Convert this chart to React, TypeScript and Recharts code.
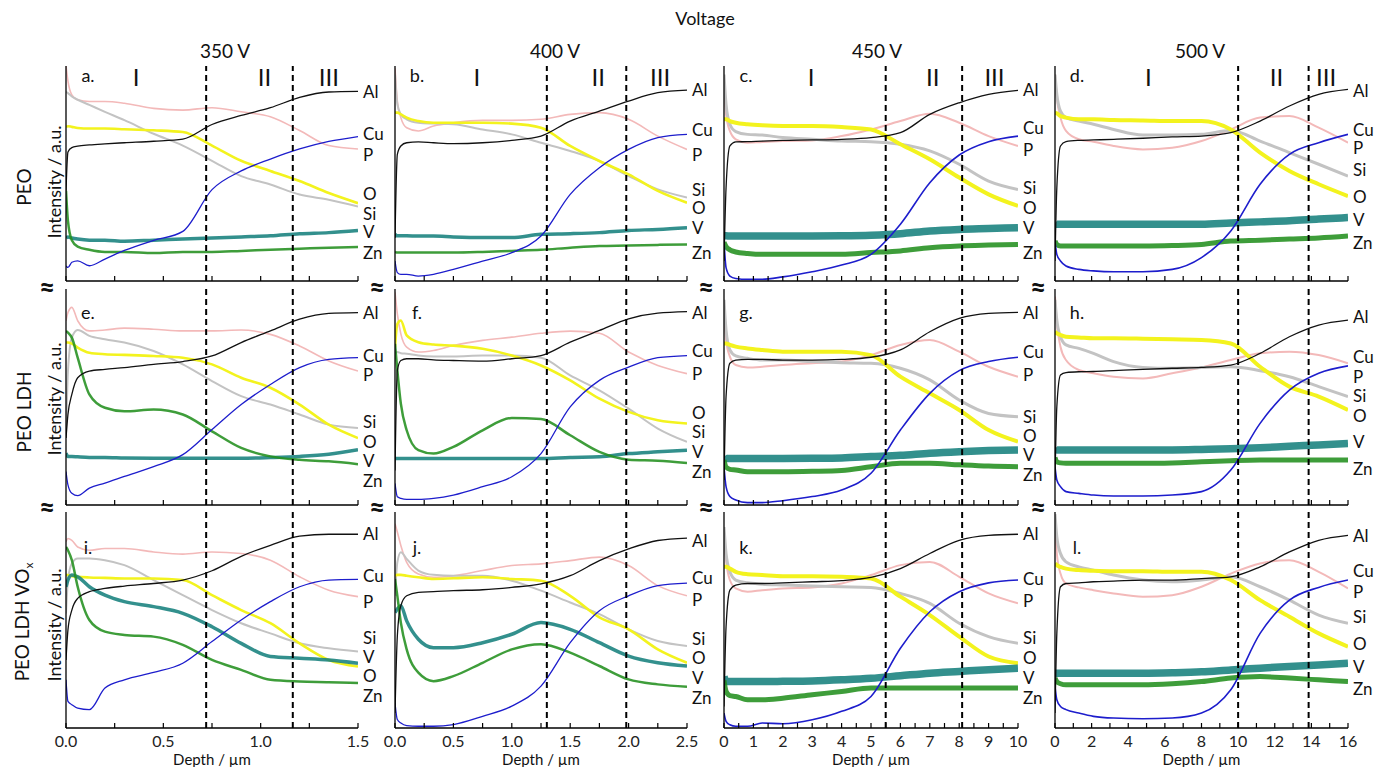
import React from "react";
import { LineChart, Line, XAxis, YAxis, ReferenceLine, ReferenceDot } from "recharts";

// series order in every panel list: Al, Cu, P, Si, O, V, Zn
const ELEMENTS = ["Al", "Cu", "P", "Si", "O", "V", "Zn"];
const DRAW_ORDER = ["P", "Si", "O", "V", "Zn", "Cu", "Al"];
const COLORS: Record<string, string> = {
    Al: "#111111",
    Cu: "#1d1dcc",
    P: "#f3b9b9",
    Si: "#c3c3c3",
    O: "#f3f31e",
    V: "#17817d",
    Zn: "#23901f",
};

// depth sampling per voltage column (µm)
const depth350 = [0, 0.01, 0.03, 0.06, 0.12, 0.2, 0.3, 0.45, 0.6, 0.75, 0.9, 1.05, 1.2, 1.35, 1.5];
const depth400 = [0, 0.02, 0.05, 0.1, 0.2, 0.33, 0.5, 0.75, 1, 1.25, 1.5, 1.75, 2, 2.25, 2.5];
const depth450 = [0, 0.07, 0.2, 0.4, 0.8, 1.3, 2, 3, 4, 5, 6, 7, 8, 9, 10];
const depth500 = [0, 0.1, 0.3, 0.6, 1.3, 2.1, 3.2, 4.8, 6.4, 8, 9.6, 11.2, 12.8, 14.4, 16];

const ticks350 = [0, 0.25, 0.5, 0.75, 1, 1.25, 1.5];
const ticks400 = [0, 0.25, 0.5, 0.75, 1, 1.25, 1.5, 1.75, 2, 2.25, 2.5];
const ticks450 = [0, 0.5, 1, 1.5, 2, 2.5, 3, 3.5, 4, 4.5, 5, 5.5, 6, 6.5, 7, 7.5, 8, 8.5, 9, 9.5, 10];
const ticks500 = [0, 1, 2, 3, 4, 5, 6, 7, 8, 9, 10, 11, 12, 13, 14, 15, 16];

const tickLabels350 = [0, 0.5, 1, 1.5];
const tickLabels400 = [0, 0.5, 1, 1.5, 2, 2.5];
const tickLabels450 = [0, 1, 2, 3, 4, 5, 6, 7, 8, 9, 10];
const tickLabels500 = [0, 2, 4, 6, 8, 10, 12, 14, 16];

const voltages = ["350 V", "400 V", "450 V", "500 V"];
const coatings = ["PEO", "PEO LDH", "PEO LDH VO"];

// region borders (dashed) and region names per column
const borders350 = [0.72, 1.165];
const borders400 = [1.3, 1.98];
const borders450 = [5.5, 8.1];
const borders500 = [10, 13.85];
const regionNames = ["I", "II", "III"];
const regions350 = [0.36, 1.02, 1.35];
const regions400 = [0.7, 1.74, 2.27];
const regions450 = [2.96, 7.1, 9.2];
const regions500 = [5.1, 12.1, 14.8];

// ---- PEO ----
const panelA = [
    [42, 60, 62, 62.7, 63.3, 63.8, 64.3, 65, 66, 72.8, 77, 80.6, 85.4, 87.9, 88.2],
    [7, 6.3, 8.7, 9.4, 7.1, 10.2, 14.2, 18.9, 23.1, 42.5, 51.2, 56.7, 61.4, 64.9, 67.2],
    [100, 93, 86.6, 84.3, 83.5, 83.5, 82.7, 80.3, 79.5, 80.6, 78.7, 76.4, 70, 63, 61.4],
    [88, 87.4, 85.8, 84.3, 81.9, 78.7, 74.8, 68.5, 63, 55.9, 48.8, 44.9, 40.2, 37.8, 34.6],
    [71.7, 72, 71.7, 71.2, 70.9, 70.9, 70.6, 70.1, 69.3, 63, 55.9, 51.2, 46.5, 40.9, 36.2],
    [20, 20.5, 20, 19.5, 19, 19, 18.5, 19, 19.5, 20, 20.5, 21, 22, 22.5, 23.5],
    [42, 28, 19, 16, 14.5, 13.5, 13.5, 13, 13.5, 13.5, 14, 14.5, 15, 15.5, 15.8],
];
const labelsA = [88.2, 68.8, 59, 31.5, 40.9, 22.8, 13.4];

const panelB = [
    [20, 58.9, 62.8, 64.3, 64.7, 64.3, 63.9, 64.3, 65.4, 67.4, 74.4, 79, 83.7, 87.6, 88.8],
    [9.3, 3.9, 3.1, 3.1, 2.3, 3.1, 5.4, 9.3, 13.2, 20.9, 40.3, 52.7, 61.2, 66.7, 68.2],
    [99, 83.7, 76, 71.3, 69.8, 72.1, 73.6, 74.7, 74.7, 75.2, 77.5, 78.3, 75.2, 67.4, 61.2],
    [96, 82.2, 77.5, 75.2, 73.6, 73.2, 72.9, 70.5, 68.2, 64.3, 60.5, 55.8, 48.8, 42.6, 38.8],
    [78.3, 78.3, 77.5, 76, 74.4, 73.6, 73.6, 73.6, 73.2, 71.3, 62.8, 55.8, 49.6, 41.9, 36.4],
    [21.7, 21, 21, 21, 20.9, 20.9, 20.5, 20.2, 20.2, 21.7, 22, 22.5, 23.5, 24, 24.8],
    [13.5, 13.2, 13.2, 13.2, 13.2, 13.2, 13.2, 13.5, 14, 14.5, 15.5, 16.3, 16.5, 16.8, 17],
];
const labelsB = [89, 70.5, 58.9, 42.6, 34.1, 24.8, 13.2];

const panelC = [
    [9.3, 43.4, 62.8, 64.7, 64.8, 65.1, 65.4, 65.6, 65.9, 66.7, 69, 77.5, 82.9, 86.8, 88.7],
    [18.6, 6.2, 2.3, 1.2, 0.8, 0.8, 1.9, 4.3, 7.4, 12.4, 26.4, 45.7, 58.6, 64.8, 67.4],
    [90, 77.5, 69.8, 65.9, 64.3, 64.7, 65.1, 65.4, 67.4, 70.5, 74.4, 77.8, 73.6, 67.4, 62.8],
    [96, 82.2, 72.9, 69.5, 68.2, 67.9, 66.7, 65.9, 65.1, 64.8, 63.6, 60.5, 54.3, 46.5, 42.6],
    [75.2, 75.2, 74.4, 73.6, 72.9, 72.4, 72.1, 72.1, 71.6, 70.5, 63.6, 56.6, 48.1, 40.3, 34.9],
    [21, 21, 20.9, 20.9, 20.9, 20.9, 20.9, 20.9, 21, 21.3, 22, 23.3, 24, 24.4, 24.8],
    [18, 16, 14.5, 13.5, 12.8, 12.4, 12.4, 12.4, 12.4, 13.2, 14, 15.5, 16.3, 16.7, 17],
];
const labelsC = [89.1, 71.3, 61.2, 43.4, 34.1, 24.8, 13.2];

const panelD = [
    [9.3, 43.4, 62.8, 64.8, 65.4, 65.6, 65.9, 66.4, 67, 67.4, 69, 74.4, 81.4, 86.8, 89.1],
    [18.6, 12.4, 9.3, 7, 5.4, 4.7, 4.3, 4.3, 5.4, 10.9, 23.3, 45, 58.9, 64.3, 68.2],
    [96, 85.3, 76, 69.8, 65.9, 64.8, 62.8, 61.2, 62, 65.1, 70.5, 76, 76.7, 71.3, 64.3],
    [96, 86.8, 79, 76, 74.4, 72.9, 70.5, 67.9, 67.9, 68.2, 70, 65.1, 59.7, 54.3, 48.8],
    [78.3, 78, 76.7, 76, 75.2, 75.2, 74.9, 74.7, 74.4, 74.4, 70.5, 59.7, 51.2, 45, 39.5],
    [26.8, 26.4, 26.4, 26.4, 26.4, 26.4, 26.4, 26.4, 26.4, 26.4, 27, 27.5, 28, 28.8, 29.5],
    [18.6, 17, 16.3, 16.3, 16.3, 16.3, 16.3, 16.3, 16.5, 17, 18.6, 19, 19.5, 20, 20.9],
];
const labelsD = [88.4, 70.5, 62, 52, 39.5, 28.7, 17.8];

// ---- PEO LDH ----
const panelE = [
    [31, 41.9, 51.2, 58.9, 62, 62.8, 63.6, 65.1, 66.4, 69, 75.2, 80.6, 86, 88.7, 89.1],
    [15.5, 9.3, 5.4, 4.3, 7.8, 10.1, 13.2, 17.8, 23.3, 34.9, 46.5, 55.8, 63.6, 67.4, 68.2],
    [85.3, 89.1, 91.5, 85.3, 80.6, 81, 81.9, 81.4, 80.6, 80.6, 81, 79, 73.6, 66.7, 62],
    [31, 62, 77.5, 81, 78.3, 76.7, 75.2, 71.3, 65.1, 57.4, 50.4, 46.5, 41.9, 37.2, 35.7],
    [75.2, 75.2, 74.7, 72.9, 70.5, 69.8, 69.5, 69, 68.2, 65.1, 58.9, 54.3, 46.5, 37.2, 31],
    [24, 22.5, 22.5, 22.3, 22, 22, 21.8, 21.7, 21.7, 21.7, 21.7, 22, 22.5, 23.5, 25.6],
    [80.6, 79.8, 77.5, 68.2, 51.2, 45, 43.4, 44.2, 41.9, 34.1, 26.4, 22.5, 20.9, 20.2, 18.9],
];
const labelsE = [89.1, 69, 60.5, 38.5, 29.5, 20.5, 11.5];

const panelF = [
    [16, 62.3, 66.9, 67.7, 67.7, 67.2, 66.9, 66.6, 67.7, 69.2, 75.4, 80.8, 86.2, 88.8, 89.5],
    [10, 3.8, 3.1, 2.6, 2.6, 3.1, 4.6, 8.5, 13.1, 23.8, 45.4, 57.7, 63.8, 68.2, 69.2],
    [98.5, 88.5, 79.2, 73.1, 70.8, 71.5, 73.8, 76.2, 77.7, 79.5, 80.5, 79.5, 70.8, 64.6, 60.8],
    [70, 70.8, 70.3, 70, 69.2, 68.8, 68.8, 69.2, 69.2, 68.2, 60, 53.1, 44.6, 35.4, 29.2],
    [73, 83.8, 85.4, 78.5, 75.4, 74.3, 73.8, 72.3, 69.2, 64.6, 57.7, 49.2, 43.1, 39.2, 37.7],
    [21.5, 21.5, 21.5, 21.5, 21.5, 21.5, 21.5, 21.5, 21.5, 21.5, 22, 22.3, 23.8, 24.6, 25.4],
    [74.6, 62.3, 46.9, 34.6, 25.4, 23.8, 26.9, 34.6, 40.3, 39.8, 32.3, 24.6, 21, 20.5, 19.5],
];
const labelsF = [89.2, 71.5, 60.8, 34, 43, 25, 15.5];

const panelG = [
    [11.6, 50.2, 65.6, 67.1, 67.4, 67.4, 67.1, 67.1, 67.4, 68.4, 71.8, 80.2, 86.4, 88.7, 89.2],
    [17.7, 8.5, 3.9, 2.3, 1.1, 1.1, 2, 3.9, 6.9, 14.7, 34.7, 51.7, 62.2, 66.4, 68.4],
    [88.7, 76.4, 68.7, 64.8, 63.7, 64, 64.8, 65.6, 66.4, 69.4, 74.1, 76.4, 71, 64, 59.4],
    [95, 81, 71.8, 69, 67.9, 67.1, 67.1, 66.4, 65.9, 65.6, 63.3, 57.9, 48.6, 42.4, 40.9],
    [74.8, 74.8, 74.1, 73.3, 72.5, 71.8, 71, 71, 71, 69.4, 59.4, 51.7, 44, 34.7, 29.3],
    [22.4, 21.5, 21.5, 21.5, 21.5, 21.5, 21.5, 21.6, 21.8, 22.4, 23, 24, 24.7, 25.2, 25.5],
    [20.8, 17.5, 16.5, 16.2, 15.4, 15.4, 15.4, 15.6, 16, 17.7, 19.3, 19.3, 18.6, 18, 17.7],
];
const labelsG = [89.2, 71, 60.2, 41.2, 32.4, 23.5, 14.3];

const panelH = [
    [11.6, 45.5, 60.2, 61.3, 61.7, 61.8, 62.2, 62.8, 63.3, 63.7, 64.8, 70.2, 77.9, 83.3, 85.6],
    [17.7, 11.6, 8.5, 6.2, 5.4, 4.6, 4.2, 4.2, 4.6, 6.2, 16.2, 37.8, 53.2, 61, 64.4],
    [96.5, 84.1, 73.3, 67.1, 62.5, 61, 59.4, 58.6, 61, 63.7, 67.1, 70.2, 71, 69.4, 65.6],
    [95, 85.6, 77.9, 74.1, 72.5, 70.2, 66.4, 63.7, 63.3, 63.7, 64, 62.2, 59.4, 54.8, 50.2],
    [80.2, 79.5, 78.7, 77.9, 77.6, 77.2, 77.2, 77, 76.7, 76.4, 74.8, 64, 54.8, 50.2, 44],
    [26, 25.5, 25.5, 25.5, 25.5, 25.5, 25.5, 25.5, 25.5, 25.7, 26, 26.5, 27.2, 27.8, 28.5],
    [22, 20, 19.5, 19.3, 19.3, 19.3, 19.3, 19.3, 19.5, 20, 20.5, 20.8, 20.8, 20.8, 20.8],
];
const labelsH = [87.2, 68.8, 59.6, 50.5, 41.5, 29.3, 17];

// ---- PEO LDH VOx ----
const panelI = [
    [31.5, 45.4, 54.6, 60, 63.1, 64.6, 65.7, 66.9, 68.5, 72.8, 79.5, 84.6, 88.8, 89.7, 89.7],
    [22.3, 12.3, 10.8, 9.2, 8.5, 18.5, 22.3, 25.7, 30, 40, 50, 58.5, 65.4, 68.5, 68.8],
    [86.2, 87.7, 86.9, 83.8, 82.3, 83.1, 83.1, 81.5, 80.5, 81.5, 80.8, 77.7, 70, 63.8, 60.8],
    [53, 68.5, 76.2, 78.5, 78.5, 77.7, 75.4, 68.5, 61.5, 54.6, 48.5, 43.8, 39.2, 36.9, 35.4],
    [70.8, 70.8, 70.3, 70, 69.7, 69.5, 69.2, 69.2, 68.5, 61.5, 54.6, 48.5, 39.2, 31.5, 28.5],
    [65.4, 68.5, 70.8, 70, 65.4, 61.5, 58.5, 56.2, 53.1, 46.9, 39.2, 33.1, 32.3, 31.5, 30],
    [83.8, 82.3, 77.7, 65.4, 50, 44.6, 43.1, 42.3, 38.5, 31.5, 26.9, 22.3, 21.5, 21.2, 20.8],
];
const labelsI = [90, 70.8, 58.5, 41.8, 24.2, 33, 15];

const panelJ = [
    [7, 42.6, 56.6, 61.2, 62.8, 63.1, 63.6, 64, 65.1, 66.7, 70.5, 77.5, 82.9, 86.8, 87.9],
    [11.6, 3.9, 2.3, 1.1, 0.8, 0.8, 1.6, 5.4, 10.1, 19.4, 39.5, 54.3, 61.2, 65.9, 67.1],
    [94.6, 90.7, 84.5, 76.7, 71.3, 69.8, 70.5, 72.9, 75.2, 76, 77.5, 79.1, 75.2, 65.9, 61.2],
    [61.2, 76.7, 81.4, 78.3, 72.9, 70.9, 70.5, 70.5, 68.2, 63.6, 58.1, 52.7, 45.7, 40.3, 38],
    [70.5, 70.9, 70.9, 70.5, 69.8, 69, 69.3, 69.8, 69, 68.2, 61.2, 51.2, 45.7, 36.4, 30.2],
    [53.5, 55, 56.6, 49.6, 41.1, 37.2, 37.2, 39.5, 43.4, 48.8, 45.7, 39.5, 33.3, 30.2, 28.7],
    [69, 61.2, 48.8, 36.4, 25.6, 21.7, 24, 30.2, 36.4, 38.8, 34.9, 28.7, 22.5, 20.2, 19.1],
];
const labelsJ = [86.8, 69.8, 59.7, 41.3, 32.5, 23.3, 14.2];

const panelK = [
    [10, 46.9, 63.8, 66.2, 66.9, 66.9, 67.2, 67.7, 68.2, 69.7, 73.8, 80.8, 86.9, 89.2, 89.7],
    [6.9, 3.1, 1.5, 0.8, 0.8, 2.3, 2, 3.8, 7.7, 14.6, 36.9, 53.8, 63.1, 67.2, 68.5],
    [90, 77.7, 68.5, 64.6, 63.1, 63.8, 64.6, 65.1, 66.9, 70.8, 75.4, 76.9, 70, 62.3, 57.7],
    [93, 80.8, 72.3, 68.5, 67.2, 66.6, 66.2, 65.7, 65.4, 65.1, 62.3, 57.7, 48.5, 42.3, 39.2],
    [74.6, 74.6, 73.8, 72.3, 71.2, 70.8, 70.3, 70.3, 70, 69.2, 60.8, 52.3, 42.3, 33.1, 30],
    [23.8, 21.5, 21.5, 21.5, 21.5, 21.5, 21.6, 21.8, 22.3, 23, 24.2, 25.4, 26.2, 27, 27.7],
    [22, 17, 15, 14.6, 13.1, 13.1, 13.8, 15.4, 16.9, 18.5, 18.5, 18.5, 18.5, 18.5, 18.5],
];
const labelsK = [90, 69.2, 59.2, 41.8, 32.5, 23.2, 13.9];

const panelL = [
    [6.9, 43.8, 65.4, 66.9, 67.2, 67.7, 68, 68.5, 68.5, 69.2, 70, 74.6, 81.5, 86.9, 89.2],
    [19.2, 13.1, 10, 8.5, 6.9, 5.4, 4.6, 4.3, 4.6, 6.9, 17.7, 43.8, 59.2, 65.1, 68.5],
    [93, 80.8, 71.5, 66.9, 65.1, 63.8, 62.3, 60.8, 61.5, 65.4, 71.5, 76.2, 77.7, 72.3, 64.6],
    [99, 88.5, 80.8, 76.9, 74.6, 73.1, 70.8, 68.5, 67.7, 68.5, 70, 65.4, 59.2, 52.3, 48.5],
    [76.2, 75.4, 74.6, 73.8, 73.1, 72.8, 72.6, 72.6, 72.3, 72.3, 68.5, 59.2, 51.5, 43.8, 37.7],
    [25.4, 25.4, 25.4, 25.4, 25.4, 25.4, 25.4, 25.4, 25.6, 26, 26.9, 27.7, 28.5, 29.2, 30],
    [23.1, 21.5, 20.5, 20, 20, 20, 20, 20, 20.5, 21.5, 23.1, 23.8, 23.1, 22.3, 21.5],
];
const labelsL = [89.2, 73.1, 63.1, 51.5, 39.2, 28.5, 18.5];

// ---- layout ----
const COL_X = [66, 395, 724, 1055];
const COL_W = [292, 292, 294, 293];
const ROW_Y = [66, 289, 512];
const ROW_H = [215, 216, 216];
const LETTER_DY = [9, 23, 35];
const PAD_L = 16;

const COLUMNS = [
    { depth: depth350, max: 1.5, ticks: ticks350, tickLabels: tickLabels350, decimals: 1, borders: borders350, regions: regions350 },
    { depth: depth400, max: 2.5, ticks: ticks400, tickLabels: tickLabels400, decimals: 1, borders: borders400, regions: regions400 },
    { depth: depth450, max: 10, ticks: ticks450, tickLabels: tickLabels450, decimals: 0, borders: borders450, regions: regions450 },
    { depth: depth500, max: 16, ticks: ticks500, tickLabels: tickLabels500, decimals: 0, borders: borders500, regions: regions500 },
];

const PANELS = [
    { letter: "a.", row: 0, col: 0, series: panelA, labels: labelsA },
    { letter: "b.", row: 0, col: 1, series: panelB, labels: labelsB },
    { letter: "c.", row: 0, col: 2, series: panelC, labels: labelsC },
    { letter: "d.", row: 0, col: 3, series: panelD, labels: labelsD },
    { letter: "e.", row: 1, col: 0, series: panelE, labels: labelsE },
    { letter: "f.", row: 1, col: 1, series: panelF, labels: labelsF },
    { letter: "g.", row: 1, col: 2, series: panelG, labels: labelsG },
    { letter: "h.", row: 1, col: 3, series: panelH, labels: labelsH },
    { letter: "i.", row: 2, col: 0, series: panelI, labels: labelsI },
    { letter: "j.", row: 2, col: 1, series: panelJ, labels: labelsJ },
    { letter: "k.", row: 2, col: 2, series: panelK, labels: labelsK },
    { letter: "l.", row: 2, col: 3, series: panelL, labels: labelsL },
];

const WIDTH_THIN: Record<string, number> = { Al: 1.3, Cu: 1.3, P: 1.6, Si: 2, O: 2.6, V: 3.5, Zn: 2.5 };
const WIDTH_THICK: Record<string, number> = { Al: 1.3, Cu: 1.6, P: 2, Si: 3, O: 4, V: 7.5, Zn: 5 };

const makeTick = (labels: number[], decimals: number, show: boolean) => (props: any) => {
    const { x, y, payload } = props;
    const v = payload.value;
    return (
        <g>
            <line x1={x} x2={x} y1={y} y2={y - 5} stroke="#000" strokeWidth={1.2} />
            {show && labels.includes(v) && (
                <text x={x} y={y + 19} textAnchor="middle" fontSize={16} fill="#222">
                    {v.toFixed(decimals)}
                </text>
            )}
        </g>
    );
};

function Panel({ panel }: { panel: (typeof PANELS)[number] }) {
    const { row, col, series, labels, letter } = panel;
    const c = COLUMNS[col];
    const data = c.depth.map((d, i) => {
        const o: Record<string, number> = { depth: d };
        ELEMENTS.forEach((e, k) => (o[e] = series[k][i]));
        return o;
    });
    const widths = col >= 2 ? WIDTH_THICK : WIDTH_THIN;
    const bottom = row === 2 ? 44 : 2;
    const w = COL_W[col] + PAD_L + 46;
    const h = ROW_H[row] + 6 + bottom + 1;

    return (
        <>
            <div style={{ position: "absolute", left: COL_X[col] - PAD_L, top: ROW_Y[row] - 6 }}>
                <LineChart width={w} height={h} data={data} margin={{ top: 6, right: 46, bottom, left: PAD_L - 1 }}>
                    <XAxis
                        dataKey="depth"
                        type="number"
                        domain={[0, c.max]}
                        ticks={c.ticks}
                        interval={0}
                        height={1}
                        tickSize={0}
                        tickMargin={0}
                        tickLine={false}
                        axisLine={{ stroke: "#000", strokeWidth: 1.3 }}
                        tick={makeTick(c.tickLabels, c.decimals, row === 2)}
                        allowDataOverflow
                    />
                    <YAxis
                        type="number"
                        domain={[0, 100]}
                        width={1}
                        tick={false}
                        tickLine={false}
                        axisLine={{ stroke: "#000", strokeWidth: 1.3 }}
                        allowDataOverflow
                    />
                    {DRAW_ORDER.map((e) => (
                        <Line
                            key={e}
                            dataKey={e}
                            type="monotone"
                            stroke={COLORS[e]}
                            strokeWidth={widths[e]}
                            strokeOpacity={e === "V" || e === "Zn" ? 0.88 : 1}
                            dot={false}
                            activeDot={false}
                            isAnimationActive={false}
                        />
                    ))}
                    {c.borders.map((b) => (
                        <ReferenceLine key={b} x={b} stroke="#000" strokeWidth={2} strokeDasharray="6 4" />
                    ))}
                    {row === 0 &&
                        c.regions.map((r, i) => (
                            <ReferenceDot
                                key={regionNames[i]}
                                x={r}
                                y={95}
                                r={0}
                                shape={(p: any) => (
                                    <text x={p.cx} y={p.cy} textAnchor="middle" dominantBaseline="central" fontSize={24} fill="#111">
                                        {regionNames[i]}
                                    </text>
                                )}
                            />
                        ))}
                    {ELEMENTS.map((e, k) => (
                        <ReferenceDot
                            key={"lab" + e}
                            x={c.max}
                            y={labels[k]}
                            r={0}
                            shape={(p: any) => (
                                <text x={p.cx + 5} y={p.cy} dominantBaseline="central" fontSize={17} fill="#111">
                                    {e}
                                </text>
                            )}
                        />
                    ))}
                </LineChart>
            </div>
            <div
                style={{
                    position: "absolute",
                    left: COL_X[col] + 22,
                    top: ROW_Y[row] + LETTER_DY[row],
                    transform: "translate(-50%, -50%)",
                    fontSize: 18,
                    color: "#111",
                }}
            >
                {letter}
            </div>
        </>
    );
}

const abs = (x: number, y: number, extra: React.CSSProperties = {}): React.CSSProperties => ({
    position: "absolute",
    left: x,
    top: y,
    transform: "translate(-50%, -50%)",
    whiteSpace: "nowrap",
    ...extra,
});

export default function App() {
    const sideY = [[187, 182], [412, 399], [622, 625]];
    const squiggleX = [47, 377, 706, 1038];
    const squiggleY = [287, 507];
    return (
        <div style={{ position: "relative", width: 1375, height: 767, background: "#fff", fontFamily: "Lato, 'Open Sans', sans-serif", color: "#111", overflow: "hidden" }}>
            <style>{"body{margin:0}"}</style>
            <div style={abs(705, 18, { fontSize: 18 })}>Voltage</div>
            {voltages.map((v, i) => (
                <div key={v} style={abs([225, 555, 877, 1200][i], 50, { fontSize: 19 })}>
                    {v}
                </div>
            ))}
            {coatings.map((t, r) => (
                <React.Fragment key={t}>
                    <div style={abs(23, sideY[r][0], { fontSize: 19, transform: "translate(-50%, -50%) rotate(-90deg)" })}>
                        {t}
                        {r === 2 && <sub style={{ fontSize: 12 }}>x</sub>}
                    </div>
                    <div style={abs(54, sideY[r][1], { fontSize: 18, transform: "translate(-50%, -50%) rotate(-90deg)" })}>
                        Intensity / a.u.
                    </div>
                </React.Fragment>
            ))}
            {squiggleX.map((x) =>
                squiggleY.map((y) => (
                    <div key={x + "-" + y} style={abs(x, y, { fontSize: 28, fontWeight: 700, lineHeight: 1 })}>
                        ≈
                    </div>
                ))
            )}
            {PANELS.map((p) => (
                <Panel key={p.letter} panel={p} />
            ))}
            {COL_X.map((x, i) => (
                <div key={"depth" + i} style={abs(x + COL_W[i] / 2, 759, { fontSize: 15, lineHeight: 1 })}>
                    Depth / µm
                </div>
            ))}
        </div>
    );
}
